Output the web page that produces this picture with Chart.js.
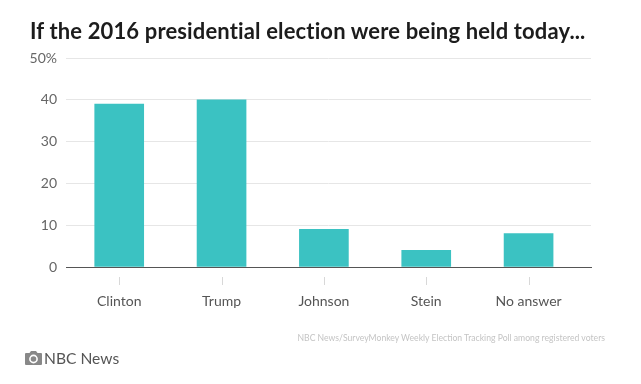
<!DOCTYPE html>
<html>
<head>
<meta charset="utf-8">
<script src="https://cdn.jsdelivr.net/npm/chart.js@4"></script>
<style>
    body { margin: 0; background: #fff; }
    #wrap { position: relative; width: 641px; height: 384px; overflow: hidden; }
    #chart { position: absolute; left: 0; top: 0; }
    .txt { position: absolute; white-space: nowrap; font-family: Lato, sans-serif; }
    #title { left: 30px; top: 17px; font-size: 22px; font-weight: 700; color: #1c1c1c; letter-spacing: 0.14px; }
    #source { right: 36px; top: 332px; font-size: 8.65px; color: #c4c4c4; }
    #credit { left: 44px; top: 349px; font-size: 15.6px; color: #555; }
    #camera { position: absolute; left: 25px; top: 350px; }
</style>
</head>
<body>
<div id="wrap">
    <canvas id="chart" width="641" height="384"></canvas>
    <div class="txt" id="title">If the 2016 presidential election were being held today...</div>
    <div class="txt" id="source">NBC News/SurveyMonkey Weekly Election Tracking Poll among registered voters</div>
    <svg id="camera" width="17" height="16" viewBox="0 0 17 16">
        <path fill="#888" d="M1 3h3.5l1.5-2h5l1.5 2H16a1 1 0 0 1 1 1v10a1 1 0 0 1-1 1H1a1 1 0 0 1-1-1V4a1 1 0 0 1 1-1z"/>
        <circle cx="8.5" cy="9" r="3.6" fill="none" stroke="#fff" stroke-width="1.6"/>
    </svg>
    <div class="txt" id="credit">NBC News</div>
</div>
<script>
    const categories = ['Clinton', 'Trump', 'Johnson', 'Stein', 'No answer'];
    const values = [39, 40, 9, 4, 8];
    const yTicks = [0, 10, 20, 30, 40, 50];

    // Short tick marks that float below the axis line
    const floatingTicks = {
        id: 'floatingTicks',
        afterDraw(chart) {
            const ctx = chart.ctx;
            const x = chart.scales.x;
            ctx.save();
            ctx.strokeStyle = '#d8d8d8';
            ctx.lineWidth = 1;
            categories.forEach((c, i) => {
                const px = Math.round(x.getPixelForValue(i)) + 0.5;
                ctx.beginPath();
                ctx.moveTo(px, 277);
                ctx.lineTo(px, 285);
                ctx.stroke();
            });
            ctx.restore();
        }
    };

    new Chart(document.getElementById('chart'), {
        type: 'bar',
        data: {
            datasets: [{
                data: values.map((v, i) => ({ x: i, y: v })),
                backgroundColor: '#3bc2c2',
                barThickness: 49
            }]
        },
        options: {
            responsive: false,
            animation: false,
            layout: { padding: { left: 0, right: 50, top: 58, bottom: 0 } },
            plugins: { legend: { display: false }, tooltip: { enabled: false } },
            scales: {
                x: {
                    type: 'linear',
                    offset: false,
                    min: -0.52,
                    max: 4.61,
                    afterBuildTicks(axis) {
                        axis.ticks = categories.map((c, i) => ({ value: i }));
                    },
                    afterFit(axis) { axis.height = 117; },
                    grid: { display: false },
                    border: { color: '#555', width: 1 },
                    ticks: {
                        autoSkip: false,
                        maxRotation: 0,
                        padding: 18,
                        color: '#555',
                        font: { family: 'Lato', size: 14 },
                        callback: (v) => categories[v]
                    }
                },
                y: {
                    min: 0,
                    max: 50,
                    afterBuildTicks(axis) {
                        axis.ticks = yTicks.map((v) => ({ value: v }));
                    },
                    afterFit(axis) { axis.width = 66; },
                    grid: { color: '#e6e6e6', drawTicks: false },
                    border: { display: false },
                    ticks: {
                        padding: 9,
                        color: '#666',
                        font: { family: 'Lato', size: 14 },
                        callback: (v) => (v === 50 ? '50%' : v)
                    }
                }
            }
        },
        plugins: [floatingTicks]
    });
</script>
</body>
</html>
